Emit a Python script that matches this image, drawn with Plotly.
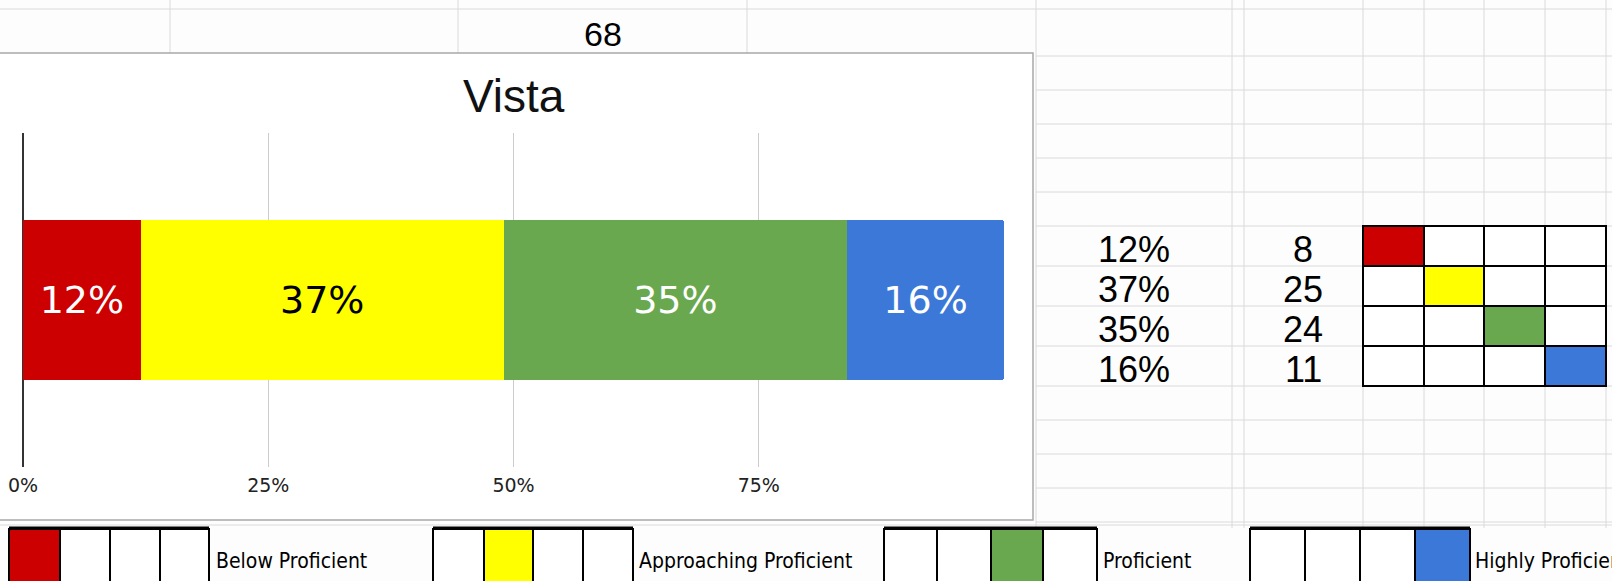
import plotly.graph_objects as go

W, H = 1612, 581

# ---- data ----
levels = ["Below Proficient", "Approaching Proficient", "Proficient", "Highly Proficient"]
percents = [12, 37, 35, 16]
counts = [8, 25, 24, 11]
chart_title = "Vista"
level_colors = ["#cc0000", "#ffff00", "#6aa84f", "#3c78d8"]
label_colors = ["#ffffff", "#000000", "#ffffff", "#ffffff"]
tick_vals = [0, 25, 50, 75, 100]
tick_text = ["0%", "25%", "50%", "75%", ""]
total = sum(counts)


def px(x):
    return x / W


def py(y):
    return 1 - y / H


GRID = "#dadada"
ARIAL = "Liberation Sans, Arial, sans-serif"
WIDE = "DejaVu Sans, Verdana, sans-serif"
NARROW = "DejaVu Sans Condensed, Liberation Sans Narrow, Arial Narrow, sans-serif"

fig = go.Figure()

# stacked horizontal bar, one segment per level
for name, p, col, tcol in zip(levels, percents, level_colors, label_colors):
    fig.add_trace(go.Bar(
        orientation="h",
        x=[p], y=[chart_title],
        name=name,
        marker=dict(color=col, line=dict(width=0)),
        text=[f"{p}%"],
        textposition="inside",
        insidetextanchor="middle",
        textangle=0,
        constraintext="none",
        textfont=dict(family=WIDE, size=38, color=tcol),
        hoverinfo="skip",
        showlegend=False,
    ))

shapes = []


def line(x0, y0, x1, y1, color=GRID, width=1):
    shapes.append(dict(type="line", xref="paper", yref="paper",
                       x0=px(x0), y0=py(y0), x1=px(x1), y1=py(y1),
                       line=dict(color=color, width=width), layer="below"))


def rect(x0, y0, x1, y1, fill, color="#000000", width=2):
    shapes.append(dict(type="rect", xref="paper", yref="paper",
                       x0=px(x0), y0=py(y0), x1=px(x1), y1=py(y1),
                       fillcolor=fill, line=dict(color=color, width=width),
                       layer="below"))


# spreadsheet grid behind the chart
line(0, 9, W, 9)
for x in [170, 458, 747]:
    line(x, 0, x, 54)
right_cols = [1036, 1232, 1244, 1363, 1424, 1484, 1545, 1606]
for x in right_cols:
    line(x, 0, x, 528)
row_lines = [56, 90, 124, 158, 192, 226, 266, 306, 346, 386, 420, 454, 488, 522]
for y in row_lines:
    line(1036, y, W, y)
line(0, 525, W, 525)

# chart card
rect(-3, 53, 1033, 520, "#ffffff", color="#a8a8a8", width=1.5)

# count table with one coloured cell per level
table_x = [1363, 1424, 1484, 1545, 1606]
table_y = [226, 266, 306, 346, 386]
for r in range(len(levels)):
    for c in range(len(levels)):
        fill = level_colors[r] if r == c else "#ffffff"
        rect(table_x[c], table_y[r], table_x[c + 1], table_y[r + 1], fill)

# key strip along the bottom
key_groups = [
    [9, 60, 110, 160, 209],
    [433, 484, 533, 583, 633],
    [884, 937, 991, 1043, 1097],
    [1250, 1305, 1360, 1415, 1470],
]
for i, xs in enumerate(key_groups):
    for c in range(4):
        fill = level_colors[i] if c == i else "#ffffff"
        rect(xs[c], 529, xs[c + 1], 600, fill)
    line(xs[0], 528, xs[-1], 528, color="#000000", width=3)

annotations = []


def text(x, y, s, size, family=ARIAL, color="#000000", xanchor="center"):
    annotations.append(dict(xref="paper", yref="paper", x=px(x), y=py(y),
                            text=s, showarrow=False, xanchor=xanchor,
                            yanchor="middle",
                            font=dict(family=family, size=size, color=color)))


text(603, 34, str(total), 34)
text(514, 96, chart_title, 46, color="#111111")

row_centers = [(a + b) / 2 + 3 for a, b in zip(table_y[:-1], table_y[1:])]
for p, n, yc in zip(percents, counts, row_centers):
    text(1134, yc, f"{p}%", 36)
    text(1303, yc, str(n), 36)

key_text_x = [214, 637, 1101, 1473]
for name, x in zip(levels, key_text_x):
    text(x, 561, name, 21, family=NARROW, xanchor="left")

fig.update_layout(
    width=W, height=H,
    margin=dict(l=0, r=0, t=0, b=0, pad=0, autoexpand=False),
    paper_bgcolor="#fdfdfd",
    plot_bgcolor="rgba(0,0,0,0)",
    barmode="stack",
    bargap=0.52,
    barcornerradius=3,
    shapes=shapes,
    annotations=annotations,
    xaxis=dict(
        domain=[px(23), px(1004)],
        range=[0, 100],
        automargin=False,
        tickvals=tick_vals, ticktext=tick_text,
        showgrid=True, gridcolor="#cccccc", gridwidth=1,
        zeroline=True, zerolinecolor="#333333", zerolinewidth=1.5,
        showline=False, ticks="",
        ticklabelstandoff=5,
        tickfont=dict(family=WIDE, size=19, color="#222222"),
        fixedrange=True,
    ),
    yaxis=dict(
        domain=[py(467), py(133)],
        automargin=False,
        showticklabels=False, showgrid=False, zeroline=False,
        showline=False, ticks="", fixedrange=True,
    ),
)

fig.write_html("out.html")
